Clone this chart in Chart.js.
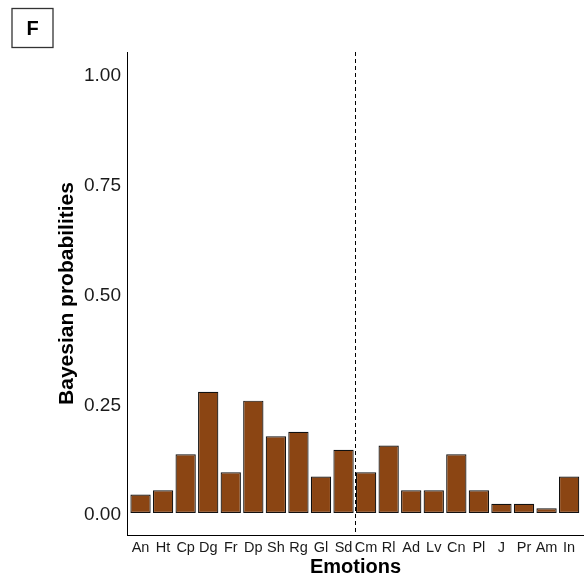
<!DOCTYPE html>
<html>
<head>
<meta charset="utf-8">
<script src="https://cdn.jsdelivr.net/npm/chart.js@4"></script>
<style>
  body { margin: 0; background: #fff; }
  #wrap { width: 584px; height: 579px; position: relative; }
</style>
</head>
<body>
<div id="wrap"><canvas id="bayesChart"></canvas></div>
<script>
const emotions = ["An", "Ht", "Cp", "Dg", "Fr", "Dp", "Sh", "Rg", "Gl", "Sd",
  "Cm", "Rl", "Ad", "Lv", "Cn", "Pl", "J", "Pr", "Am", "In"];
const probabilities = [0.042, 0.052, 0.134, 0.276, 0.093, 0.256, 0.175, 0.185, 0.083, 0.144,
  0.093, 0.154, 0.052, 0.052, 0.134, 0.052, 0.021, 0.021, 0.011, 0.083];
const yTicks = [0, 0.25, 0.5, 0.75, 1.0];
const splitAfter = 9.5; // dashed line between Sd and Cm
const panelLabel = "F";

const fontFamily = "'Liberation Sans', Arial, Helvetica, sans-serif";

// dashed divider + panel letter
const extras = {
  id: "extras",
  afterDatasetsDraw(chart) {
    const { ctx, chartArea, scales } = chart;
    const x = scales.x.getPixelForValue(splitAfter);
    ctx.save();
    ctx.strokeStyle = "#000";
    ctx.lineWidth = 1;
    ctx.setLineDash([4, 3]);
    ctx.beginPath();
    ctx.moveTo(Math.round(x) + 0.5, chartArea.top);
    ctx.lineTo(Math.round(x) + 0.5, chartArea.bottom);
    ctx.stroke();
    ctx.restore();
  },
  afterDraw(chart) {
    const ctx = chart.ctx;
    ctx.save();
    ctx.strokeStyle = "#333";
    ctx.lineWidth = 1.3;
    ctx.strokeRect(12, 8.5, 41, 39);
    ctx.fillStyle = "#000";
    ctx.font = "bold 20px " + fontFamily;
    ctx.textAlign = "center";
    ctx.textBaseline = "middle";
    ctx.fillText(panelLabel, 32.5, 29);
    ctx.restore();
  }
};

new Chart(document.getElementById("bayesChart"), {
  type: "bar",
  data: {
    datasets: [{
      data: probabilities.map((p, i) => ({ x: i, y: p })),
      backgroundColor: "#8B4513",
      borderColor: "#111",
      borderWidth: 1.2,
      borderSkipped: false,
      barPercentage: 1,
      categoryPercentage: 0.9
    }]
  },
  options: {
    responsive: true,
    maintainAspectRatio: false,
    animation: false,
    layout: { padding: { top: 52, right: 0, left: 0, bottom: 0 } },
    plugins: {
      legend: { display: false },
      tooltip: { enabled: false }
    },
    scales: {
      x: {
        type: "linear",
        offset: false,
        min: -0.6,
        max: 19.66,
        grid: { display: false, drawTicks: false, offset: false },
        border: { display: true, color: "#000", width: 1 },
        afterBuildTicks: (scale) => { scale.ticks = emotions.map((_, i) => ({ value: i })); },
        afterFit: (scale) => { scale.height = 44; },
        ticks: {
          autoSkip: false,
          maxRotation: 0,
          padding: 4,
          color: "#1a1a1a",
          font: { family: fontFamily, size: 14.5 },
          callback: (v) => emotions[v]
        },
        title: {
          display: true,
          text: "Emotions",
          color: "#000",
          padding: { top: 0, bottom: 0 },
          font: { family: fontFamily, size: 20, weight: "bold" }
        }
      },
      y: {
        min: -0.05,
        max: 1.05,
        grid: { display: false, drawTicks: false },
        border: { display: true, color: "#000", width: 1 },
        afterBuildTicks: (scale) => { scale.ticks = yTicks.map((v) => ({ value: v })); },
        afterFit: (scale) => { scale.width = 127; },
        ticks: {
          padding: 6,
          labelOffset: 2,
          color: "#1a1a1a",
          font: { family: fontFamily, size: 19 },
          callback: (v) => v.toFixed(2)
        },
        title: {
          display: true,
          text: "Bayesian probabilities",
          color: "#000",
          padding: { top: 55, bottom: 0 },
          font: { family: fontFamily, size: 21, weight: "bold" }
        }
      }
    }
  },
  plugins: [extras]
});
</script>
</body>
</html>
